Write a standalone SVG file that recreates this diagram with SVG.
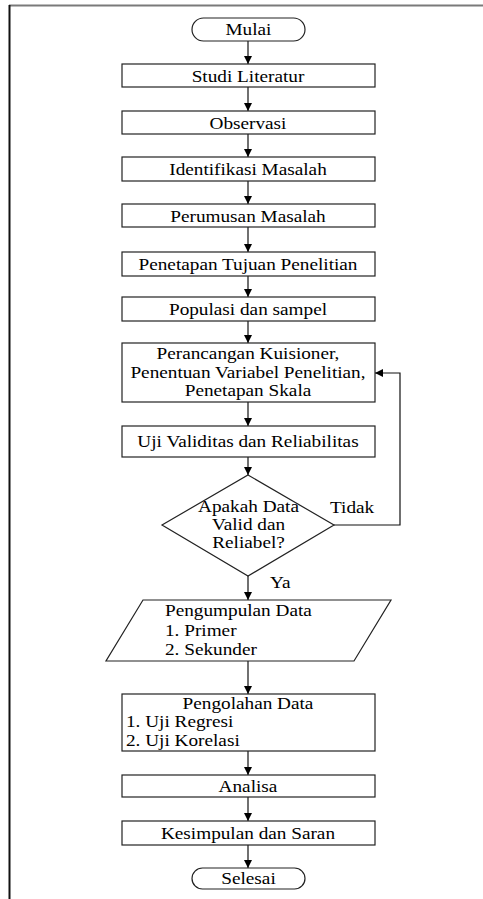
<svg xmlns="http://www.w3.org/2000/svg" width="483" height="899" viewBox="0 0 483 899">
<style>
.s{fill:#fff;stroke:#222;stroke-width:1.2}
.t{font-family:"Liberation Serif","Times New Roman",serif;font-size:17.5px;fill:#000;transform-box:fill-box;transform-origin:left center;transform:scaleX(1.1)}
.m{text-anchor:middle;transform-origin:center center}
.c{fill:none;stroke:#111;stroke-width:1.2}
</style>
<defs>
<marker id="a" viewBox="0 0 10 10" refX="10" refY="5" markerWidth="8" markerHeight="8" markerUnits="userSpaceOnUse" orient="auto">
<path d="M0,0 L10,5 L0,10 Z" fill="#000"/>
</marker>
</defs>
<rect width="483" height="899" fill="#fff"/>
<g id="frame">
<line x1="9" y1="5.5" x2="483" y2="5.5" stroke="#7a7a7a" stroke-width="2"/>
<line x1="9.5" y1="5" x2="9.5" y2="899" stroke="#111" stroke-width="2"/>
</g>
<g id="connectors">
<line class="c" x1="248" y1="41" x2="248" y2="64" marker-end="url(#a)"/>
<line class="c" x1="248" y1="87" x2="248" y2="111" marker-end="url(#a)"/>
<line class="c" x1="248" y1="134" x2="248" y2="157" marker-end="url(#a)"/>
<line class="c" x1="248" y1="181" x2="248" y2="204" marker-end="url(#a)"/>
<line class="c" x1="248" y1="227" x2="248" y2="252" marker-end="url(#a)"/>
<line class="c" x1="248" y1="276" x2="248" y2="297" marker-end="url(#a)"/>
<line class="c" x1="248" y1="321" x2="248" y2="343" marker-end="url(#a)"/>
<line class="c" x1="248" y1="402" x2="248" y2="426" marker-end="url(#a)"/>
<line class="c" x1="248" y1="457" x2="248" y2="475" marker-end="url(#a)"/>
<line class="c" x1="248" y1="576" x2="248" y2="600" marker-end="url(#a)"/>
<line class="c" x1="248" y1="661" x2="248" y2="694" marker-end="url(#a)"/>
<line class="c" x1="248" y1="751" x2="248" y2="775" marker-end="url(#a)"/>
<line class="c" x1="248" y1="797" x2="248" y2="821" marker-end="url(#a)"/>
<line class="c" x1="248" y1="845" x2="248" y2="868" marker-end="url(#a)"/>
<polyline class="c" points="334,525 400,525 400,373 375,373" marker-end="url(#a)"/>
<text class="t" x="330" y="513">Tidak</text>
<text class="t" x="270" y="588">Ya</text>
</g>
<g id="mulai"><rect class="s" x="192" y="18" width="113" height="23" rx="11.5"/><text class="t m" x="248.5" y="35.5">Mulai</text></g>
<g id="studi"><rect class="s" x="122" y="64" width="253" height="23"/><text class="t m" x="248" y="82">Studi Literatur</text></g>
<g id="observasi"><rect class="s" x="122" y="111" width="253" height="23"/><text class="t m" x="248" y="129">Observasi</text></g>
<g id="identifikasi"><rect class="s" x="122" y="157" width="253" height="24"/><text class="t m" x="248" y="175.5">Identifikasi Masalah</text></g>
<g id="perumusan"><rect class="s" x="122" y="204" width="253" height="23"/><text class="t m" x="248" y="222">Perumusan Masalah</text></g>
<g id="tujuan"><rect class="s" x="122" y="252" width="253" height="24"/><text class="t m" x="248" y="270.5">Penetapan Tujuan Penelitian</text></g>
<g id="populasi"><rect class="s" x="122" y="297" width="253" height="24"/><text class="t m" x="248" y="315.5">Populasi dan sampel</text></g>
<g id="perancangan"><rect class="s" x="122" y="343" width="253" height="59"/>
<text class="t m" x="248" y="359">Perancangan Kuisioner,</text>
<text class="t m" x="248" y="378">Penentuan Variabel Penelitian,</text>
<text class="t m" x="248" y="396.5">Penetapan Skala</text></g>
<g id="uji"><rect class="s" x="122" y="426" width="253" height="31"/><text class="t m" x="248" y="447">Uji Validitas dan Reliabilitas</text></g>
<g id="keputusan"><polygon class="s" points="248,475 334,525 248,576 162,525"/>
<text class="t m" x="248.5" y="512">Apakah Data</text>
<text class="t m" x="248.5" y="530">Valid dan</text>
<text class="t m" x="248.5" y="548">Reliabel?</text></g>
<g id="pengumpulan"><polygon class="s" points="143,600 391,600 354,661 106,661"/>
<text class="t" x="165" y="616">Pengumpulan Data</text>
<text class="t" x="165" y="636">1. Primer</text>
<text class="t" x="165" y="655">2. Sekunder</text></g>
<g id="pengolahan"><rect class="s" x="122" y="694" width="253" height="57"/>
<text class="t m" x="248" y="709">Pengolahan Data</text>
<text class="t" x="126" y="727">1. Uji Regresi</text>
<text class="t" x="126" y="746">2. Uji Korelasi</text></g>
<g id="analisa"><rect class="s" x="122" y="775" width="253" height="22"/><text class="t m" x="248" y="792.5">Analisa</text></g>
<g id="kesimpulan"><rect class="s" x="122" y="821" width="253" height="24"/><text class="t m" x="248" y="839.5">Kesimpulan dan Saran</text></g>
<g id="selesai"><rect class="s" x="192" y="868" width="113" height="21" rx="10.5"/><text class="t m" x="248.5" y="884.5">Selesai</text></g>
</svg>
